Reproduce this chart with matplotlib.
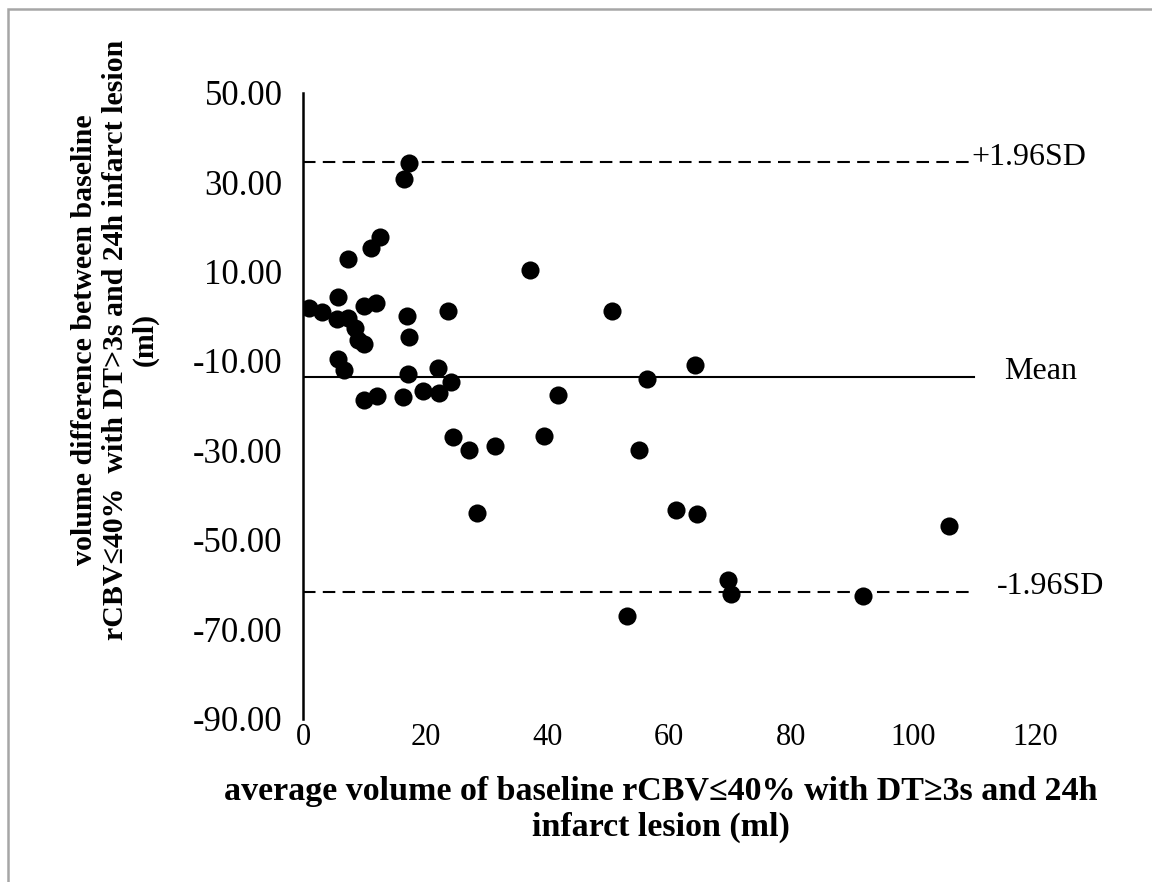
import matplotlib
matplotlib.use("Agg")
import matplotlib.pyplot as plt
from matplotlib.patches import Rectangle

# Bland-Altman style data
avg_volume = [17.4, 16.5, 12.6, 11.1, 7.4, 37.2, 5.7, 1.0, 3.0, 11.9,
              10.0, 5.5, 7.4, 8.5, 9.0, 10.0, 17.0, 17.3, 23.8, 5.7,
              6.6, 17.1, 22.0, 24.2, 10.0, 12.1, 16.4, 19.6, 22.3, 50.6,
              41.8, 56.3, 64.2, 24.6, 27.1, 31.5, 39.5, 55.0, 28.4, 61.1,
              64.6, 69.6, 70.1, 91.7, 53.0, 105.9]
vol_diff = [34.3, 30.7, 17.8, 15.3, 12.9, 10.3, 4.4, 1.9, 1.0, 3.0,
            2.3, -0.6, -0.5, -2.7, -5.3, -6.2, 0.0, -4.7, 1.1, -9.6,
            -12.0, -13.0, -11.6, -14.8, -18.7, -17.8, -18.1, -16.7, -17.2, 1.1,
            -17.7, -14.1, -11.0, -26.9, -29.8, -29.0, -26.8, -29.8, -43.9, -43.3,
            -44.2, -59.0, -62.2, -62.6, -67.0, -46.9]

mean_diff = -13.66
upper_loa = 34.41
lower_loa = -61.74
line_end = 110

y_ticks = [50, 30, 10, -10, -30, -50, -70, -90]
y_tick_labels = ['50.00', '30.00', '10.00', '-10.00', '-30.00', '-50.00', '-70.00', '-90.00']
x_ticks = [0, 20, 40, 60, 80, 100, 120]
x_tick_labels = ['0', '20', '40', '60', '80', '100', '120']

serif = ['Liberation Serif', 'DejaVu Serif']

fig = plt.figure(figsize=(11.52, 8.82), dpi=100)
fig.patches.append(Rectangle((8 / 1152, -0.05), 1.2, 1 - 9 / 882 + 0.05,
                             transform=fig.transFigure, fill=False,
                             edgecolor='#a6a6a6', linewidth=1.8))

ax = fig.add_axes([0.2633, 0.1851, 0.6354, 0.7099])

ax.scatter(avg_volume, vol_diff, s=170, color='black', zorder=3, linewidths=0)

ax.plot([0, line_end], [upper_loa, upper_loa], color='black', lw=1.5, dashes=(6, 3.5))
ax.plot([0, line_end], [lower_loa, lower_loa], color='black', lw=1.5, dashes=(6, 3.5))
ax.plot([0.3, line_end], [mean_diff, mean_diff], color='black', lw=1.5)

ax.text(line_end - 0.4, upper_loa + 1.0, '+1.96SD', ha='left', va='center',
        fontsize=23, family=serif, clip_on=False)
ax.text(line_end + 4.9, mean_diff + 1.3, 'Mean', ha='left', va='center',
        fontsize=23, family=serif, clip_on=False)
ax.text(line_end + 3.7, lower_loa + 1.3, '-1.96SD', ha='left', va='center',
        fontsize=23, family=serif, clip_on=False)

ax.set_xlim(0, 120)
ax.set_ylim(-90, 50)
ax.set_yticks(y_ticks)
ax.set_yticklabels(y_tick_labels, family=serif, fontsize=25)
ax.set_xticks(x_ticks)
ax.set_xticklabels(x_tick_labels, family=serif, fontsize=22)
ax.tick_params(axis='y', length=0, pad=15)
ax.tick_params(axis='x', length=0, pad=3)

for side in ['top', 'right', 'bottom']:
    ax.spines[side].set_visible(False)
ax.spines['left'].set_linewidth(1.8)

fig.text(0.574, 0.082,
         'average volume of baseline rCBV≤40% with DT≥3s and 24h\ninfarct lesion (ml)',
         ha='center', va='center', fontsize=24.5, fontweight='bold',
         family=serif, linespacing=1.2)
fig.text(0.100, 0.615,
         'volume difference between baseline\nrCBV≤40%  with DT>3s and 24h infarct lesion\n(ml)',
         ha='center', va='center', rotation=90, fontsize=21.5, fontweight='bold',
         family=serif, linespacing=1.15)

fig.savefig('out.png', dpi=100)
